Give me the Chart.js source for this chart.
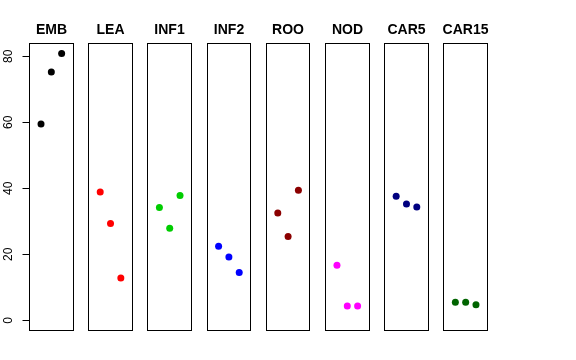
<!DOCTYPE html>
<html>
<head>
<meta charset="utf-8">
<script src="https://cdn.jsdelivr.net/npm/chart.js@4"></script>
<style>
 html, body { margin: 0; padding: 0; background: #fff; }
 #wrap { width: 576px; height: 360px; }
</style>
</head>
<body>
<div id="wrap"><canvas id="chart" width="576" height="360"></canvas></div>
<script>
// groups and their three values each
const groups = ["EMB", "LEA", "INF1", "INF2", "ROO", "NOD", "CAR5", "CAR15"];
const embValues = [59.5, 75.2, 80.8];
const leaValues = [38.9, 29.3, 12.8];
const inf1Values = [34.2, 27.9, 37.8];
const inf2Values = [22.4, 19.2, 14.5];
const rooValues = [32.5, 25.4, 39.4];
const nodValues = [16.7, 4.3, 4.3];
const car5Values = [37.6, 35.2, 34.3];
const car15Values = [5.5, 5.5, 4.7];
const yTicks = [0, 20, 40, 60, 80];
const colors = ["#000000", "#FF0000", "#00CD00", "#0000FF", "#8B0000", "#FF00FF", "#000080", "#006400"];

const allValues = [embValues, leaValues, inf1Values, inf2Values, rooValues, nodValues, car5Values, car15Values];

// each panel spans a local x range of -0.165..4.165, points at 1,2,3
const PANEL_W = 4.33;
const GAP = 1.41;
const STEP = PANEL_W + GAP;

const datasets = groups.map((g, i) => ({
 label: g,
 data: allValues[i].map((v, j) => ({ x: i * STEP + 0.165 + (j + 1), y: v })),
 backgroundColor: colors[i],
 borderColor: colors[i],
 pointRadius: 3.5,
 pointHoverRadius: 3.5,
 borderWidth: 0,
 showLine: false
}));

const panels = {
 id: "panels",
 afterDraw(chart) {
 const ctx = chart.ctx;
 const xs = chart.scales.x;
 const ys = chart.scales.y;
 const top = Math.round(chart.chartArea.top) + 0.5;
 const bottom = Math.round(chart.chartArea.bottom) - 0.5;
 ctx.save();
 ctx.strokeStyle = "#000";
 ctx.lineWidth = 1;
 ctx.fillStyle = "#000";
 ctx.font = "bold 14px 'Liberation Sans', Arial, sans-serif";
 ctx.textAlign = "center";
 ctx.textBaseline = "alphabetic";
 groups.forEach((g, i) => {
 const x0 = Math.round(xs.getPixelForValue(i * STEP)) + 0.5;
 const x1 = Math.round(xs.getPixelForValue(i * STEP + PANEL_W)) - 0.5;
 ctx.strokeRect(x0, top, x1 - x0, bottom - top);
 ctx.fillText(g, (x0 + x1) / 2, 34);
 });

 // left axis, R style
 const ax = Math.round(xs.getPixelForValue(0)) + 0.5;
 const yLo = ys.getPixelForValue(yTicks[0]);
 const yHi = ys.getPixelForValue(yTicks[yTicks.length - 1]);
 ctx.beginPath();
 ctx.moveTo(ax, yLo);
 ctx.lineTo(ax, yHi);
 ctx.font = "12px 'Liberation Sans', Arial, sans-serif";
 yTicks.forEach(t => {
 const py = Math.round(ys.getPixelForValue(t)) + 0.5;
 ctx.moveTo(ax, py);
 ctx.lineTo(ax - 7, py);
 });
 ctx.stroke();
 yTicks.forEach(t => {
 const py = ys.getPixelForValue(t);
 ctx.save();
 ctx.translate(11.5, py);
 ctx.rotate(-Math.PI / 2);
 ctx.textAlign = "center";
 ctx.textBaseline = "alphabetic";
 ctx.fillText(String(t), 0, 0);
 ctx.restore();
 });
 ctx.restore();
 }
};

new Chart(document.getElementById("chart"), {
 type: "scatter",
 data: { datasets },
 options: {
 responsive: false,
 animation: false,
 events: [],
 layout: { padding: { left: 29, top: 43, right: 88, bottom: 29 } },
 plugins: { legend: { display: false }, tooltip: { enabled: false }, title: { display: false } },
 scales: {
 x: { type: "linear", min: 0, max: 7 * STEP + PANEL_W, display: false },
 y: { type: "linear", min: -3.24, max: 84.0, display: false }
 }
 },
 plugins: [panels]
});
</script>
</body>
</html>
